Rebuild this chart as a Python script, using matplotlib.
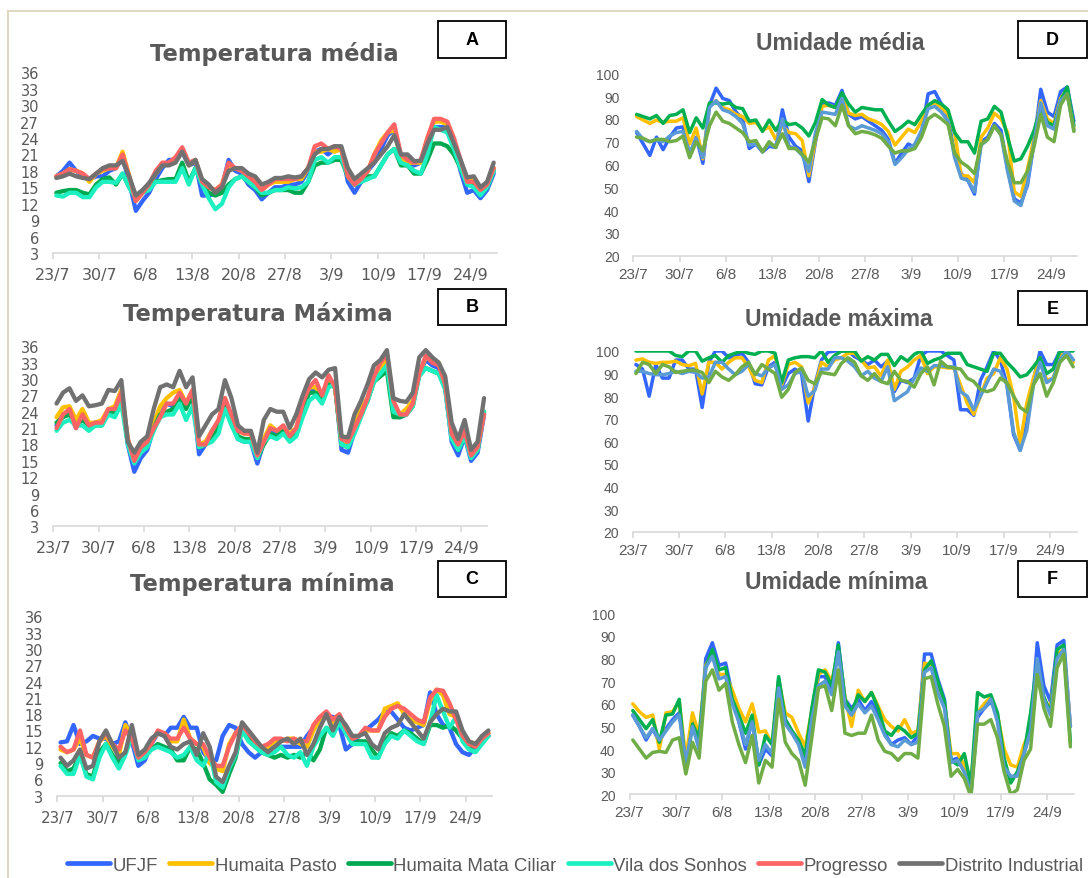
import numpy as np
import matplotlib
matplotlib.use('Agg')
import matplotlib.pyplot as plt
from matplotlib.lines import Line2D
from matplotlib.patches import Rectangle

W, H = 1088, 879

# station names and colours
stations = ['UFJF', 'Humaita Pasto', 'Humaita Mata Ciliar', 'Vila dos Sonhos',
            'Progresso', 'Distrito Industrial']
temp_colors = ['#3366FF', '#FFC000', '#00A94F', '#1DF0C0', '#FF6464', '#717171']
hum_colors = ['#3366FF', '#FFC000', '#00B050', '#5B9BD5', '#70AD47']

tick_days = [0, 7, 14, 21, 28, 35, 42, 49, 56, 63]
tick_labels = ['23/7', '30/7', '6/8', '13/8', '20/8', '27/8', '3/9', '10/9', '17/9', '24/9']

# ---- A: temperatura media (one value per day, 23/7 .. 28/9)
A_ufjf = [17, 18, 19.5, 18, 17, 16.5, 17, 17, 18, 18.5,
          20.5, 16, 10.7, 12.5, 14, 16.5, 18.5, 20, 20, 21.5,
          19, 19.5, 13.5, 13.5, 13.8, 15, 20, 18, 17.5, 15.5,
          14.5, 12.8, 14, 15, 15, 15.5, 15.5, 16, 18, 21.5,
          22, 21, 22, 22, 16, 14, 16, 18, 19.5, 22,
          24.5, 25.5, 20.5, 19, 19, 19.5, 23, 26, 26, 26,
          23, 18, 14, 14.5, 13, 14.5, 17.5]
A_pasto = [17, 17.5, 18.3, 18, 17.5, 16, 17.5, 18, 18.5, 18.5,
           21.5, 17, 12.5, 14, 15.5, 17.5, 19, 19.5, 20, 22,
           19, 20, 16, 15, 14.5, 15.5, 19, 18.5, 18, 17,
           16, 14.5, 15.5, 16, 16, 16, 16.5, 16.5, 18.5, 21.5,
           21.5, 22, 21.5, 22, 17, 15.5, 16.5, 18, 21, 23.5,
           25, 25.5, 20, 19.5, 19.5, 19.5, 24, 27, 27, 26.5,
           23.5, 19.5, 16, 16.5, 14.5, 15.5, 18.5]
A_mata = [14, 14.3, 14.5, 14.5, 14, 13.7, 15.5, 16.5, 16.8, 15.5,
          17.5, 15, 13, 14, 15, 16, 16.3, 16.5, 16.5, 19.5,
          16, 18.5, 15.5, 14, 13.5, 14, 15.5, 16.5, 17, 16,
          15, 13.5, 14, 14.5, 14.5, 14.5, 14, 14, 16, 19,
          19.5, 19.5, 20, 20, 17, 15.5, 16, 17, 17, 19,
          21, 22, 19, 19, 17.5, 17.5, 20, 23, 23, 22.5,
          21, 18.5, 15.5, 15.5, 14, 15, 18]
A_vila = [13.5, 13.3, 14, 14, 13.2, 13.2, 15, 16, 16, 15.8,
          17.5, 15, 13, 14, 14.5, 16, 16, 16, 16, 18.5,
          15.5, 18.5, 15.5, 13, 11, 12, 15, 16.5, 17, 16,
          15, 14, 14, 14.5, 14.5, 15, 14.8, 15, 16, 20,
          20.5, 19.5, 20.5, 20.5, 17, 15.5, 16, 16.5, 17, 19,
          21, 22, 19.5, 19, 18, 17.5, 21, 26, 25.5, 25,
          22, 18.5, 15.5, 15, 13.5, 15, 18]
A_prog = [17, 17.5, 18.3, 18, 17.5, 16.5, 17.5, 18.3, 18.5, 18.5,
          21, 17, 12.5, 14, 15.5, 18, 19.5, 19.5, 20.5, 22.3,
          19.5, 20, 16, 15, 14.5, 15.5, 19.5, 18.5, 18, 17,
          16, 14.5, 15.5, 16.5, 16.5, 16.5, 16.5, 17, 18.5, 22.5,
          23, 22, 22.5, 22, 17, 15.5, 16.5, 18, 21, 23,
          25, 26.5, 21, 20, 19.5, 20, 24, 27.5, 27.5, 27,
          24, 20, 16, 16, 14.5, 15.5, 18.5]
A_dist = [16.7, 17, 17.5, 17, 16.7, 16.5, 17.5, 18.5, 19, 19,
          19.8, 17, 13.5, 14.5, 15.8, 17.5, 19, 19, 19.5, 21.5,
          19, 20, 16.5, 15.5, 14, 15, 18, 18.5, 18.5, 17.5,
          17, 15.5, 16, 16.7, 16.7, 17, 16.8, 17, 18.5, 21,
          22, 22, 22.5, 22.5, 18.5, 16.5, 17.5, 18.5, 19.5, 21,
          22.5, 24.5, 21, 21, 19.8, 19.8, 23, 25.5, 25.5, 26,
          23, 20, 16.8, 17, 15, 16, 19.5]

# ---- B: temperatura maxima
B_ufjf = [21.5, 23.5, 24, 21, 23.5, 21.5, 22, 22, 24.5, 24.5,
          28, 18, 13, 15.5, 17, 21, 24.5, 25.5, 25, 27,
          25, 27.5, 16.2, 18, 20.5, 22, 26, 22, 19, 18.5,
          18.5, 14.5, 18.5, 20.5, 20, 21, 19, 20, 24.5, 28,
          28, 26.5, 30, 29, 17, 16.5, 20.5, 24, 26, 30,
          31.5, 33, 24, 23, 23.5, 25.5, 31, 33.5, 32.5, 32,
          28.5, 18.5, 16, 19.5, 15, 16.5, 23.5]
B_pasto = [23, 24.8, 25, 22.5, 24.5, 22, 22, 22.5, 24.5, 25,
           28, 19, 15, 17.5, 18.5, 22, 25, 26.5, 27.5, 28,
           25.5, 28, 18, 18.5, 20.5, 22, 26.5, 22.5, 20.5, 20,
           20, 16, 19, 21.5, 20.5, 21, 20, 21, 25, 28.5,
           28.5, 26.5, 30, 28.5, 18, 18, 21.5, 24.5, 26.5, 30,
           32, 33.5, 24, 23.5, 24.5, 26, 31, 34, 33.5, 33,
           29, 20, 18, 20.5, 16, 17.5, 24]
B_mata = [22, 23, 23.5, 21.5, 22.5, 21.5, 21.5, 21.5, 24, 24,
          27, 18.5, 15, 17, 18, 21, 23.5, 24, 24.5, 26.5,
          24.5, 27, 17.5, 18, 19, 21, 25.5, 22, 19.5, 19,
          19, 15.5, 18, 20, 19.5, 20.5, 19, 20, 24, 27.5,
          27.5, 26.5, 29, 28.5, 18, 17.5, 20.5, 23.5, 26, 29.5,
          30.5, 31.5, 23, 23, 23.5, 25, 31, 32, 31.5, 31,
          28.5, 19.5, 17, 19.5, 16, 17, 24]
B_vila = [20.5, 22, 22.5, 21.5, 21.5, 20.5, 21.5, 21.5, 23.5, 23,
          25.5, 18, 14.5, 16.5, 17.5, 20.5, 23, 23.5, 23.5, 25.5,
          22.5, 25, 17.5, 18, 18.5, 20, 24.5, 21.5, 19, 18.5,
          18.5, 15.5, 18.5, 19.5, 19, 20, 18.5, 19.5, 23, 26,
          27, 25.5, 28.5, 29, 18, 17.5, 20, 23, 26, 29.5,
          31, 32.5, 24, 23.5, 23.5, 25, 30.5, 32, 31.5, 31,
          28, 19, 17, 19.5, 15.5, 17, 24]
B_prog = [21, 23.5, 24.5, 21, 23.5, 21.5, 22, 22, 24.5, 24.5,
          27.5, 19, 15, 17.5, 18.5, 21, 23, 25.5, 25.5, 27.5,
          25.5, 28, 18, 18, 20.5, 22.5, 26.5, 23.5, 20.5, 20,
          20, 16, 18.5, 21, 20.5, 21.5, 19.5, 21, 25.5, 28.5,
          29.8, 27, 30.7, 28.5, 19, 18.5, 21, 23.5, 26.5, 30.5,
          33, 34.5, 26, 23.5, 23.5, 25.5, 31, 34.3, 33, 32.5,
          29, 20, 18, 20.5, 16, 17.5, 23.5]
B_dist = [25.5, 27.5, 28.3, 26, 27, 25, 25.2, 25.5, 28, 27.8,
          29.8, 18.5, 16.5, 18.5, 19.5, 24.5, 28.5, 29, 28.5, 31.5,
          28.5, 30.3, 19.5, 21.5, 23.5, 24.5, 29.8, 26.5, 21.5, 20.5,
          20.5, 16.5, 22.5, 24.5, 24, 24, 21, 23.5, 27, 30,
          31.2, 30.3, 31.7, 32, 19.5, 19.3, 23.5, 26, 29, 32.5,
          33.5, 35.3, 26.5, 26, 25.8, 27.5, 34, 35.3, 34, 33,
          30.5, 22, 19, 22.5, 17, 18.5, 26.5]

# ---- C: temperatura minima
C_ufjf = [12.8, 13, 16, 12.5, 13, 14, 13.5, 13.5, 12.5, 13,
          16.5, 13, 8.5, 9.5, 12.5, 14.5, 14, 15.5, 15.5, 17.5,
          15.5, 15.5, 11, 9.5, 9.5, 14, 16, 15.5, 12.5, 11,
          10, 11, 11.5, 12, 12, 12, 12, 12, 14, 15.5,
          17, 17.5, 17.5, 16, 11.5, 12.5, 14, 15, 16, 17,
          18.5, 18.5, 17, 15.5, 15, 15.5, 16, 22, 18, 16,
          15.5, 12.5, 11, 10.5, 12, 13.5, 14]
C_pasto = [11.5, 11, 11.5, 13.5, 10.5, 10, 13, 14, 12, 10.5,
           16, 14, 10, 11, 13, 14.5, 14.5, 13, 13, 17,
           13.5, 12.5, 12, 9, 8, 7.5, 12.5, 14.5, 15.5, 14,
           12.5, 11.5, 12, 13, 13, 13.5, 13.5, 12.5, 12, 15,
           17, 18, 16.5, 17.5, 15, 13.5, 14, 15, 15, 15,
           19, 19.5, 20, 18, 17, 16.5, 16, 20.5, 22.5, 21.5,
           18, 17.5, 14, 13, 12.5, 13.5, 14.5]
C_mata = [9, 7.5, 8, 10.5, 7, 6.5, 11, 12.5, 10.5, 9,
          11, 14, 10, 10.5, 11.5, 12.5, 12, 11.5, 9.5, 9.5,
          12, 11.5, 9, 6, 5, 3.7, 7, 10, 15.5, 13.5,
          12, 11, 10.5, 10, 10.5, 10, 10.5, 10, 11, 9.5,
          11.5, 15.5, 14.5, 16.5, 15, 12.5, 13, 13, 11.5, 10,
          13, 14.5, 14, 15, 14.5, 13.5, 12.5, 16, 16, 15.5,
          16, 15, 13.5, 12, 12, 13, 14]
C_vila = [8.5, 7, 7, 10.5, 6.5, 6, 10, 12.5, 10, 8,
          10.5, 14, 9.5, 10, 11.5, 12, 11.5, 11, 10, 10.5,
          12, 9.5, 8.5, 11, 5.5, 4.5, 8, 10.5, 15, 13,
          12, 11, 10.5, 11, 12, 10.5, 10, 11, 8.5, 12,
          14, 15.5, 14, 16.5, 14.5, 12.5, 12.5, 12.5, 10, 10,
          12.5, 14, 13.5, 15, 14, 13, 12.5, 16.5, 21.5, 18.5,
          15.5, 17.5, 13, 11.5, 11, 12.5, 14]
C_prog = [12, 11, 11.5, 15, 10.5, 10, 13, 14.5, 12.5, 11.5,
          15, 13.5, 10, 11, 12.5, 15, 14.5, 13.5, 13.5, 15.5,
          13.5, 12.5, 12.5, 10, 8.5, 8.5, 12, 14.5, 16, 14.5,
          13, 12, 12.5, 13.5, 13.5, 13, 13.5, 13, 13, 16,
          17.5, 18.5, 17, 18, 15.5, 13.5, 14, 15.5, 15, 15,
          17.5, 19, 19.5, 19, 18, 17, 16.5, 21, 22.5, 22.3,
          20, 17, 14, 12.5, 12, 13.5, 14.5]
C_dist = [10, 8.5, 9.5, 11.5, 8, 8.5, 13, 15, 12.5, 10,
          11, 16, 10.5, 11.5, 13.5, 14.5, 14, 12, 11.5, 12.5,
          13, 10.5, 14.5, 12, 6.5, 5.5, 8.5, 11, 16.5, 15,
          13.5, 12, 11, 12, 13, 13.5, 12.5, 13.5, 10.5, 12.5,
          15.5, 18, 15, 17.5, 16, 14, 14, 14.5, 12.5, 11.5,
          14.5, 15.5, 16, 18, 16.5, 15, 13.5, 16.5, 18, 19,
          18.5, 18.5, 15, 13, 12.5, 14, 15]

# ---- D: umidade media
D_ufjf = [74, 69, 64, 72, 66.5, 72, 76, 76.5, 64, 72,
          60.5, 86, 93.5, 89, 88, 83, 80, 67, 69, 65.5,
          68, 67.5, 84, 72, 68, 66, 52.5, 70, 86.5, 87,
          86, 92.5, 82, 80, 81, 79, 77, 75, 71, 60.5,
          65, 69, 67.5, 74, 91, 92, 86.5, 81, 64, 56,
          53, 47, 70, 72, 78, 75, 58, 45, 43, 51,
          70, 93, 83, 81, 92, 94, 79]
D_pasto = [81, 79.5, 78, 79.5, 78.5, 79, 79, 80.5, 69, 76,
           62.5, 86, 88, 85, 84, 82, 81, 78, 78.5, 75,
           76.5, 71, 77, 74, 73.5, 70.5, 55, 71, 85.5, 86,
           85, 90, 82.5, 81.5, 82, 80, 79, 77.5, 74.5, 68.5,
           72, 75.5, 74, 79, 86, 87, 85, 82, 74, 55,
           55, 52, 72, 76, 82.5, 80, 74, 48, 46, 58,
           72, 88, 80, 78, 89, 93, 76]
D_mata = [82, 81, 80, 81.5, 78, 81.5, 82, 84, 74, 80.5,
          76, 87, 87, 86.5, 87, 85, 84.5, 79, 79.5, 74.5,
          79.5, 75, 79.5, 77.5, 78, 76, 72.5, 78.5, 88.5, 86,
          85, 91.5, 86.5, 83, 85, 84.5, 84, 84, 79, 74.5,
          76.5, 79, 77.5, 82, 86, 88, 86.5, 84, 74, 70,
          70, 65, 79, 80, 85.5, 83, 72, 61.5, 62.5, 68,
          75, 85, 78.5, 77, 88, 94, 77]
D_vila = [74.5, 71, 70, 71, 70, 72.5, 74, 74.5, 65, 71.5,
          63, 85, 88, 84, 83, 81, 78, 68.5, 69, 66,
          69, 67.5, 80, 68, 67, 64, 57, 74, 83, 82.5,
          82, 89, 77, 75.5, 77, 76, 75, 73.5, 70, 60,
          63, 66.5, 69, 75, 84.5, 85.5, 83, 79, 63, 54,
          53, 48, 68.5, 71, 77, 73, 57, 44, 42, 52,
          70, 87, 77, 75.5, 88, 91, 75]
D_prog = [72, 71.5, 70, 71, 71, 70, 70.5, 72.5, 63, 70,
          66, 77, 83, 79, 78, 76, 74, 70, 70.5, 65.5,
          70, 67.5, 73.5, 67, 67, 64.5, 61, 71, 80.5, 80,
          77, 86, 77, 73.5, 74.5, 74, 73, 71.5, 68, 65,
          66, 66, 67, 72, 80, 82, 80, 77.5, 65, 61,
          59, 56, 69, 71, 77, 73, 61, 52, 52, 57,
          68, 82, 72, 70, 86, 91, 74.5]

# ---- E: umidade maxima
E_ufjf = [94, 92, 80, 94, 88, 88, 96, 96, 92, 92,
          75, 95, 100, 100, 97, 98, 99, 95, 85.5, 85,
          93, 95, 84, 90, 92, 90, 69, 85, 96, 99.5,
          100, 100, 100, 97.5, 96, 94, 96, 93, 95.5, 82,
          87, 86, 88, 98, 100, 100, 100, 98, 96, 74,
          74, 71.5, 87, 93, 100, 96, 85, 63, 56, 68,
          87, 100, 94, 94, 100, 100, 96]
E_pasto = [96, 96.5, 95, 94.5, 95, 95, 95.5, 94, 93.5, 94.5,
           81, 95, 95, 92, 95, 97, 97, 93, 87, 86,
           96, 98, 85, 94, 95, 93, 77, 84, 95, 93,
           96, 97, 99, 99, 96, 92.5, 93, 89, 96, 83,
           91, 93, 96, 98, 90, 93, 93, 92.5, 92.5, 85,
           77, 72, 80, 88, 90, 97, 92, 80, 59, 77,
           88, 97, 87, 88, 98, 99, 95]
E_mata = [100, 100, 100, 100, 100, 100, 98, 97.5, 100, 100,
          95.5, 97, 98, 95, 98, 99, 100, 99, 98.5, 100,
          100, 99, 86, 96, 97, 97.5, 97.5, 97, 100, 95,
          98, 100, 100, 100, 95.5, 97.5, 96, 98.5, 98.5, 93.5,
          97.5, 95.5, 98.5, 100, 94.5, 96, 97, 99, 99, 99,
          94, 93, 92, 91, 99, 99, 95, 92, 88.5, 89.5,
          93, 97, 90, 92, 100, 100, 100]
E_vila = [91, 91, 90, 89.5, 89.5, 90, 91, 90, 91, 90.5,
          88, 88.5, 95, 95, 92, 89.5, 91, 94, 90, 89,
          92.5, 94, 83, 85, 90, 91, 80, 82.5, 92, 92,
          97, 97, 95.5, 93, 89, 91, 88, 86.5, 93, 78,
          80, 82, 88, 92.5, 91, 93.5, 93.5, 93, 93, 82,
          80, 74, 80, 86, 92, 91, 85, 64, 56, 65,
          85, 95, 86, 88, 96, 100, 96]
E_prog = [90, 95, 94, 90, 94, 93, 90.5, 91, 91.5, 91.5,
          90.5, 86, 91, 88.5, 87, 89.5, 93, 95, 89.5, 94,
          92, 90, 79.5, 83, 90.5, 92.5, 87, 85.5, 90.5, 90,
          89.5, 94.5, 97, 95, 89, 87, 90, 86.5, 85.5, 91,
          87, 86.5, 84, 90, 93, 85, 95.5, 93, 92.5, 92,
          88, 86.5, 83, 82, 83, 88, 86, 80, 75, 73,
          85, 90, 80, 86, 95, 98, 93]

# ---- F: umidade minima
F_ufjf = [55, 50, 44, 49, 43, 49, 53, 56, 35, 52,
          40, 80, 87, 77, 78, 64, 52, 40, 53, 33,
          40, 37, 71, 53, 48, 43, 34, 55, 72, 72,
          65, 87, 62, 58, 62, 57, 61, 55, 47, 42,
          44, 45, 42, 46, 82, 82, 71, 62, 35, 36,
          30, 20, 54, 58, 61, 55, 33, 27, 29, 38,
          48, 87, 68, 61, 86, 88, 50]
F_pasto = [60, 56.5, 54, 55, 40, 56, 56.5, 61, 36, 56,
           46, 77, 82, 73, 73, 66, 58, 52, 60, 47.5,
           48, 42, 70, 56, 54, 47, 41, 57, 73, 75,
           70, 83, 63, 50, 66, 61, 65, 59, 53, 50,
           48, 53, 47, 48, 78, 77, 68, 60, 38, 38,
           33, 26, 56, 60, 63, 55, 40, 33, 32, 42,
           48, 75, 62, 58, 82, 84, 50]
F_mata = [57, 53, 49, 53, 43, 55, 55.5, 62, 30, 51,
          45, 76, 84, 75, 76, 62, 55, 47, 55, 33,
          46, 42, 72, 53, 48, 44, 37, 58, 75, 74,
          68, 86, 62, 56, 64, 61, 65, 58, 48, 46,
          50, 48, 45, 47, 75, 79, 70, 61, 35, 33,
          38, 24, 65, 63, 64, 56, 36, 25, 30, 38,
          56, 79, 63, 56, 84, 86, 43]
F_vila = [55, 50, 45, 49, 44, 48, 52, 55, 34, 50,
          40, 76, 81, 71, 72, 60, 52, 42, 52, 35,
          42, 38, 67, 51, 47, 42, 32, 53, 68, 70,
          64, 83, 59, 55, 60, 56, 59, 53, 46, 42,
          41, 44, 42, 43, 74, 76, 65, 58, 34, 35,
          30, 20, 56, 58, 62, 52, 32, 28, 28, 38,
          48, 80, 62, 55, 80, 84, 50]
F_prog = [44, 40, 36, 38.5, 39, 38.5, 44, 45, 29, 43,
          36, 70, 75, 66, 69, 52, 42, 34, 46, 25,
          35, 32, 62, 43, 38, 35, 24, 45, 67, 68,
          57, 75, 47, 46, 47, 47, 55, 44, 39, 38,
          35, 38, 38, 36, 71, 72, 60, 50, 28, 31,
          27, 19, 51, 51, 53, 45, 30, 20, 22, 35,
          40, 73, 58, 50, 76, 82, 41]

GRAY = '#595959'
AXIS = '#D9D9D9'


def px_axes(fig, x0, y0, x1, y1):
    return fig.add_axes([x0 / W, 1 - y1 / H, (x1 - x0) / W, (y1 - y0) / H])


def setup(ax, ylim, yticks, yfont, xfont, ysize, xsize, xpad):
    ax.set_xlim(0, 67)
    ax.set_ylim(*ylim)
    for s in ['left', 'right', 'top']:
        ax.spines[s].set_visible(False)
    ax.spines['bottom'].set_color(AXIS)
    ax.spines['bottom'].set_linewidth(1.2)
    ax.set_yticks(yticks)
    ax.set_yticklabels([str(v) for v in yticks], family=yfont, fontsize=ysize, color=GRAY)
    ax.set_xticks(tick_days)
    ax.set_xticklabels(tick_labels, family=xfont, fontsize=xsize, color=GRAY)
    ax.tick_params(axis='y', length=0, pad=10)
    ax.tick_params(axis='x', length=4, width=1.2, color=AXIS, pad=xpad)
    ax.patch.set_alpha(0)


def label_box(fig, x0, y0, x1, y1, letter):
    fig.patches.append(Rectangle((x0 / W, 1 - y1 / H), (x1 - x0) / W, (y1 - y0) / H,
                                 transform=fig.transFigure, facecolor='white',
                                 edgecolor='black', linewidth=1.3))
    fig.text((x0 + x1) / 2 / W, 1 - (y0 + y1) / 2 / H, letter, ha='center', va='center',
             family='Liberation Sans', fontweight='bold', fontsize=13, color='black')


fig = plt.figure(figsize=(W / 100, H / 100), dpi=100)

# frame of the page
fig.lines.append(Line2D([8 / W, 1], [1 - 12 / H, 1 - 12 / H], transform=fig.transFigure,
                        color='#DAD5BC', lw=1.3))
fig.lines.append(Line2D([8 / W, 8 / W], [1 - 12 / H, 0], transform=fig.transFigure,
                        color='#DAD5BC', lw=1.3))

temp_panels = [
    ('Temperatura média', [A_ufjf, A_pasto, A_mata, A_vila, A_prog, A_dist],
     (53, 73.3, 497, 254), (274, 61), 'A', (438, 22, 506, 59), 11.5),
    ('Temperatura Máxima', [B_ufjf, B_pasto, B_mata, B_vila, B_prog, B_dist],
     (53.3, 347.3, 487.3, 527.3), (257.5, 321.5), 'B', (438, 290, 506, 326), 11.5),
    ('Temperatura mínima', [C_ufjf, C_pasto, C_mata, C_vila, C_prog, C_dist],
     (57.3, 617.3, 491.7, 796.7), (262.5, 590.5), 'C', (438, 562, 506, 598), 10.8),
]
for title, series, box, tpos, letter, lbox, xs in temp_panels:
    ax = px_axes(fig, *box)
    for vals, col in zip(series, temp_colors):
        ax.plot(np.arange(len(vals)) + 0.5, vals, color=col, lw=3.1,
                solid_joinstyle='round', solid_capstyle='round')
    setup(ax, (3, 36), list(range(3, 37, 3)), 'DejaVu Sans', 'DejaVu Sans', 10.5, xs, 6)
    fig.text(tpos[0] / W, 1 - tpos[1] / H, title, ha='center', va='baseline',
             family='DejaVu Sans', fontweight='bold', fontsize=16.3, color=GRAY)
    label_box(fig, *lbox, letter)

hum_panels = [
    ('Umidade média', [D_ufjf, D_pasto, D_mata, D_vila, D_prog],
     (633.3, 74.3, 1077.2, 256.7), (840, 50), 'D', (1018, 22, 1087, 59)),
    ('Umidade máxima', [E_ufjf, E_pasto, E_mata, E_vila, E_prog],
     (632.6, 352, 1076.5, 532.7), (839, 326), 'E', (1018, 292, 1087, 326)),
    ('Umidade mínima', [F_ufjf, F_pasto, F_mata, F_vila, F_prog],
     (629.5, 614.3, 1073.7, 795.3), (836, 589), 'F', (1018, 562, 1087, 598)),
]
for title, series, box, tpos, letter, lbox in hum_panels:
    ax = px_axes(fig, *box)
    for vals, col in zip(series, hum_colors):
        ax.plot(np.arange(len(vals)) + 0.5, vals, color=col, lw=2.5,
                solid_joinstyle='round', solid_capstyle='round')
    setup(ax, (20, 100), list(range(20, 101, 10)), 'Liberation Sans', 'Liberation Sans',
          10, 11, 4)
    fig.text(tpos[0] / W, 1 - tpos[1] / H, title, ha='center', va='baseline',
             family='Liberation Sans', fontweight='bold', fontsize=16.5, color=GRAY)
    label_box(fig, *lbox, letter)

handles = [Line2D([], [], color=c, lw=3.4, solid_capstyle='round') for c in temp_colors]
leg = fig.legend(handles, stations, loc='center', bbox_to_anchor=(575 / W, 1 - 866 / H),
                 ncol=6, frameon=False, handlelength=2.3, handletextpad=0.15,
                 columnspacing=0.6, borderpad=0.1, borderaxespad=0,
                 prop={'family': 'Liberation Sans', 'size': 13.4})
for t in leg.get_texts():
    t.set_color(GRAY)

fig.savefig('out.png', dpi=100)
